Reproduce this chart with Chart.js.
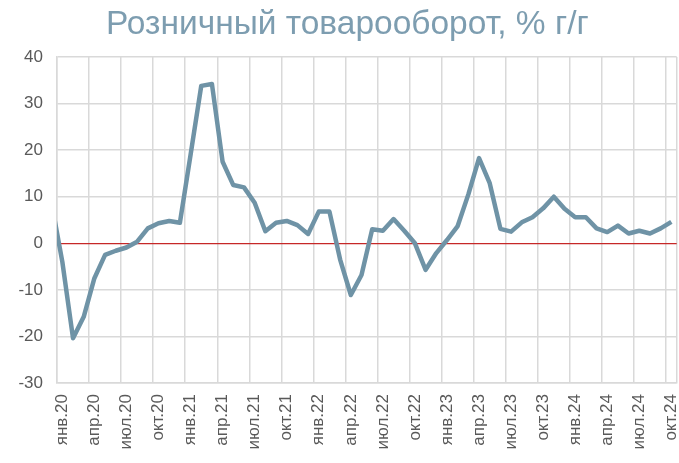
<!DOCTYPE html>
<html>
<head>
<meta charset="utf-8">
<script src="https://cdn.jsdelivr.net/npm/chart.js@4.4.1/dist/chart.umd.min.js"></script>
<style>
  html, body { margin: 0; padding: 0; background: #ffffff; }
  #wrap { width: 679px; height: 463px; }
</style>
</head>
<body>
<div id="wrap"><canvas id="c" width="679" height="463"></canvas></div>
<script>
// Title
const titleText = 'Розничный товарооборот, % г/г';

// Categories (monthly). The first one (дек.19) lies just left of the visible axis range;
// only the segment leading into янв.20 shows, clipped at the plot edge.
const categories = [
  'дек.19',
  'янв.20','фев.20','мар.20','апр.20','май.20','июн.20','июл.20','авг.20','сен.20','окт.20','ноя.20','дек.20',
  'янв.21','фев.21','мар.21','апр.21','май.21','июн.21','июл.21','авг.21','сен.21','окт.21','ноя.21','дек.21',
  'янв.22','фев.22','мар.22','апр.22','май.22','июн.22','июл.22','авг.22','сен.22','окт.22','ноя.22','дек.22',
  'янв.23','фев.23','мар.23','апр.23','май.23','июн.23','июл.23','авг.23','сен.23','окт.23','ноя.23','дек.23',
  'янв.24','фев.24','мар.24','апр.24','май.24','июн.24','июл.24','авг.24','сен.24','окт.24'
];

// Retail turnover, % y/y
const values = [
  8.5,
  -4.0, -20.4, -15.8, -7.5, -2.5, -1.6, -0.9, 0.35, 3.2, 4.3, 4.8, 4.4,
  19.0, 33.8, 34.2, 17.5, 12.5, 12.0, 8.7, 2.6, 4.4, 4.8, 3.9, 2.0,
  6.8, 6.8, -3.5, -11.1, -6.8, 3.0, 2.7, 5.2, 2.7, 0.0, -5.7, -2.1,
  0.7, 3.7, 10.5, 18.3, 12.9, 3.1, 2.5, 4.5, 5.6, 7.5, 10.0, 7.4,
  5.6, 5.6, 3.2, 2.4, 3.8, 2.1, 2.7, 2.1, 3.2, 4.6
];

// Which category labels are printed on the axis
const tickMonths = ['янв', 'апр', 'июл', 'окт'];
const firstVisible = 'янв.20';

// Value axis
const yMin = -30, yMax = 40, yStep = 10;

const FONT = "'Liberation Sans', Arial, sans-serif";
const GRID = '#d9d9d9';
const TEXT = '#595959';

const ctx = document.getElementById('c').getContext('2d');
new Chart(ctx, {
  type: 'line',
  data: {
    labels: categories,
    datasets: [{
      label: titleText,
      data: values,
      borderColor: '#6f93a6',
      borderWidth: 4.5,
      pointRadius: 0,
      pointHoverRadius: 0,
      tension: 0,
      fill: false,
      clip: 0,
      borderJoinStyle: 'round',
      borderCapStyle: 'butt'
    }]
  },
  options: {
    responsive: false,
    animation: false,
    devicePixelRatio: 1,
    layout: { padding: { left: 18, right: 2.3, top: 0, bottom: 0 } },
    plugins: {
      legend: { display: false },
      tooltip: { enabled: false },
      title: {
        display: true,
        text: titleText,
        color: '#7d9db0',
        font: { family: FONT, size: 33.5, weight: 'normal', lineHeight: 1.2 },
        padding: { top: 4.5, bottom: 12.3 }
      }
    },
    scales: {
      x: {
        type: 'category',
        min: firstVisible,
        offset: true,
        grid: {
          offset: true,
          drawTicks: false,
          lineWidth: 1.5,
          color: (c) => (c.index === undefined || c.index % 3 === 0) ? GRID : 'rgba(0,0,0,0)'
        },
        border: { color: GRID, width: 1.5 },
        ticks: {
          autoSkip: false,
          minRotation: 90,
          maxRotation: 90,
          padding: 11,
          color: TEXT,
          font: { family: FONT, size: 17 },
          callback: function (v) {
            const l = this.getLabelForValue(v);
            return tickMonths.includes(l.split('.')[0]) ? l : '';
          }
        },
        afterFit: (s) => { s.height = 80; s.paddingLeft = 0; s.paddingRight = 0; }
      },
      y: {
        min: yMin,
        max: yMax,
        ticks: {
          stepSize: yStep,
          padding: 14,
          color: TEXT,
          font: { family: FONT, size: 17 }
        },
        grid: {
          drawTicks: false,
          color: (c) => (c.tick && c.tick.value === 0) ? '#c62828' : GRID,
          lineWidth: (c) => (c.tick && c.tick.value === 0) ? 1.2 : 1.5
        },
        border: { color: GRID, width: 1.5 },
        afterFit: (s) => { s.width = 39; }
      }
    }
  }
});
</script>
</body>
</html>
